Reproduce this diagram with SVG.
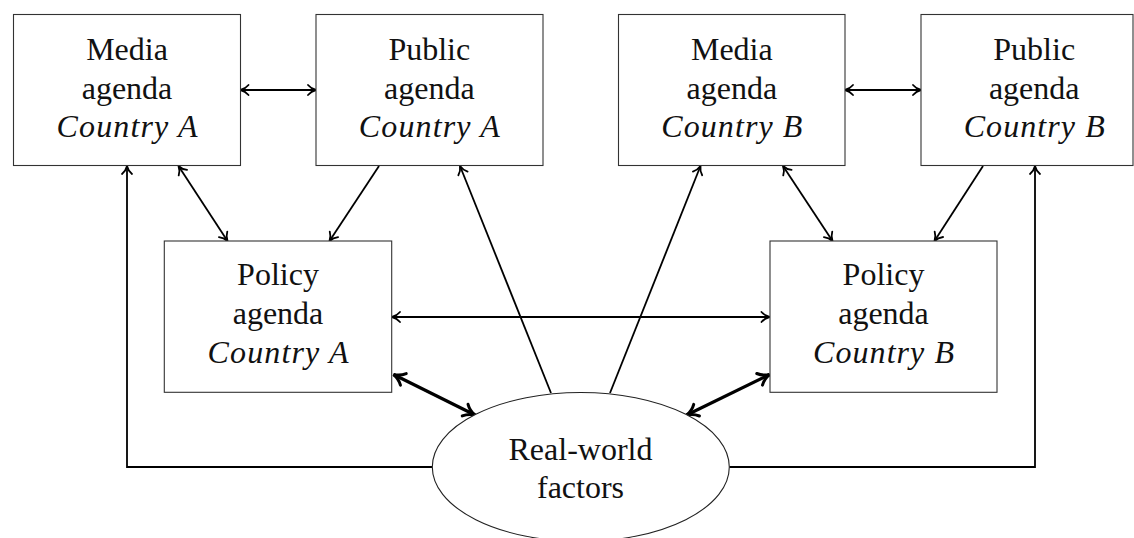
<svg xmlns="http://www.w3.org/2000/svg" width="1134" height="538" viewBox="0 0 1134 538">
<defs>
<style>
.box{fill:#fff;stroke:#333;stroke-width:1.1}
.t{font-family:"Liberation Serif","DejaVu Serif",serif;font-size:32px;fill:#111;text-anchor:middle}
.i{font-style:italic}
.c{fill:none;stroke:#000;stroke-width:1.8}
.thick{fill:none;stroke:#000;stroke-width:3.2}
</style>
<marker id="ah" markerUnits="userSpaceOnUse" viewBox="-10 -7 12 14" markerWidth="12" markerHeight="14" refX="0" refY="0" orient="auto-start-reverse">
<path d="M-8,-5 C-5.5,-2 -2.5,-0.6 0,0 C-2.5,0.6 -5.5,2 -8,5" fill="none" stroke="#000" stroke-width="1.8" stroke-linecap="round"/>
</marker>
<marker id="ahb" markerUnits="userSpaceOnUse" viewBox="-14 -9 16 18" markerWidth="16" markerHeight="18" refX="0" refY="0" orient="auto-start-reverse">
<path d="M-11,-6.5 C-7.5,-2.5 -3.5,-0.8 0,0 C-3.5,0.8 -7.5,2.5 -11,6.5" fill="none" stroke="#000" stroke-width="3" stroke-linecap="round"/>
</marker>
</defs>

<g id="connectors">
<line class="c" x1="240.5" y1="90" x2="316" y2="90" marker-start="url(#ah)" marker-end="url(#ah)"/>
<line class="c" x1="845" y1="90" x2="921" y2="90" marker-start="url(#ah)" marker-end="url(#ah)"/>
<line class="c" x1="178.5" y1="166" x2="227.5" y2="241" marker-start="url(#ah)" marker-end="url(#ah)"/>
<line class="c" x1="379" y1="166" x2="329.5" y2="241" marker-end="url(#ah)"/>
<line class="c" x1="783" y1="166" x2="832.5" y2="241" marker-start="url(#ah)" marker-end="url(#ah)"/>
<line class="c" x1="983" y1="166" x2="934.5" y2="241" marker-end="url(#ah)"/>
<line class="c" x1="392" y1="317" x2="769.5" y2="317" marker-start="url(#ah)" marker-end="url(#ah)"/>
<line class="c" x1="551" y1="393" x2="460" y2="166" marker-end="url(#ah)"/>
<line class="c" x1="610" y1="393" x2="700.5" y2="166" marker-end="url(#ah)"/>
<path class="c" d="M432.3,467 H127 V166" marker-end="url(#ah)"/>
<path class="c" d="M729.3,467 H1035 V166" marker-end="url(#ah)"/>
<line class="thick" x1="393.5" y1="374.5" x2="475" y2="415" marker-start="url(#ahb)" marker-end="url(#ahb)"/>
<line class="thick" x1="686.7" y1="415" x2="769.5" y2="374.5" marker-start="url(#ahb)" marker-end="url(#ahb)"/>
</g>

<g id="media-a">
<rect class="box" x="13.5" y="14.5" width="227" height="151"/>
<text class="t" x="127" y="60">Media</text>
<text class="t" x="127" y="98.5">agenda</text>
<text class="t i" x="127" y="137" textLength="141">Country A</text>
</g>
<g id="public-a">
<rect class="box" x="316" y="14.5" width="227" height="151"/>
<text class="t" x="429.3" y="60">Public</text>
<text class="t" x="429.3" y="98.5">agenda</text>
<text class="t i" x="429.3" y="137" textLength="141">Country A</text>
</g>
<g id="media-b">
<rect class="box" x="618.5" y="14.5" width="226.5" height="151"/>
<text class="t" x="731.8" y="60">Media</text>
<text class="t" x="731.8" y="98.5">agenda</text>
<text class="t i" x="731.8" y="137" textLength="141">Country B</text>
</g>
<g id="public-b">
<rect class="box" x="921" y="14.5" width="212" height="151"/>
<text class="t" x="1034.2" y="60">Public</text>
<text class="t" x="1034.2" y="98.5">agenda</text>
<text class="t i" x="1034.2" y="137" textLength="141">Country B</text>
</g>
<g id="policy-a">
<rect class="box" x="164.3" y="241" width="227.4" height="151.3"/>
<text class="t" x="278" y="285">Policy</text>
<text class="t" x="278" y="324">agenda</text>
<text class="t i" x="278" y="363" textLength="141">Country A</text>
</g>
<g id="policy-b">
<rect class="box" x="770" y="241" width="227" height="151.3"/>
<text class="t" x="883.5" y="285">Policy</text>
<text class="t" x="883.5" y="324">agenda</text>
<text class="t i" x="883.5" y="363" textLength="141">Country B</text>
</g>
<g id="real-world">
<ellipse cx="580.8" cy="467" rx="148.5" ry="74.5" fill="#fff" stroke="#222" stroke-width="1.1"/>
<text class="t" x="580.5" y="459.5">Real-world</text>
<text class="t" x="580.5" y="498">factors</text>
</g>
</svg>
